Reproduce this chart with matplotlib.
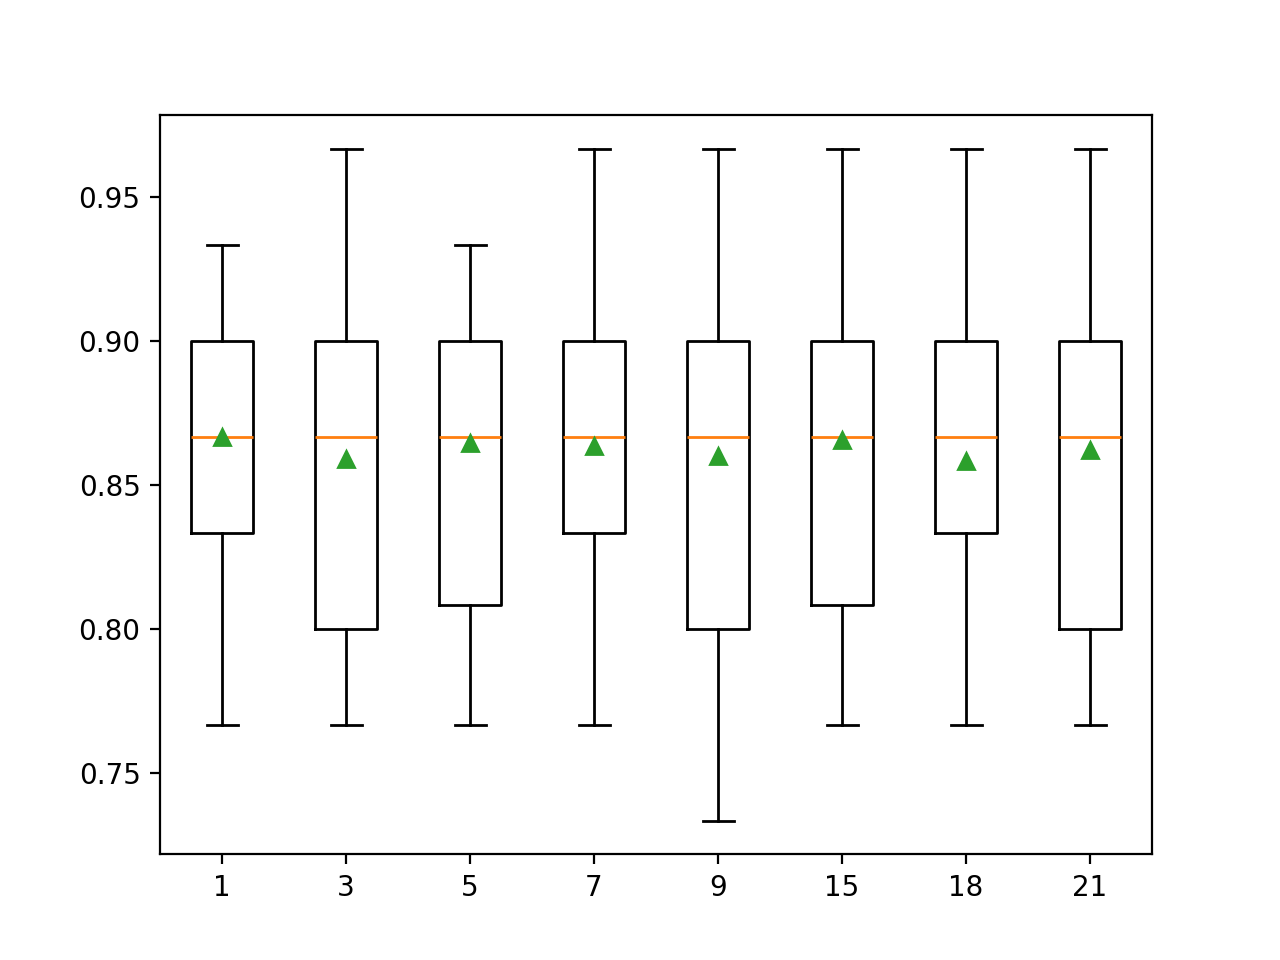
import matplotlib
matplotlib.use('Agg')
import matplotlib.pyplot as plt

# k values and box statistics
labels = ['1', '3', '5', '7', '9', '15', '18', '21']
whislo = [0.7667, 0.7667, 0.7667, 0.7667, 0.7333, 0.7667, 0.7667, 0.7667]
q1 = [0.8333, 0.8000, 0.8083, 0.8333, 0.8000, 0.8083, 0.8333, 0.8000]
med = [0.8667, 0.8667, 0.8667, 0.8667, 0.8667, 0.8667, 0.8667, 0.8667]
q3 = [0.9000, 0.9000, 0.9000, 0.9000, 0.9000, 0.9000, 0.9000, 0.9000]
whishi = [0.9333, 0.9667, 0.9333, 0.9667, 0.9667, 0.9667, 0.9667, 0.9667]
means = [0.8667, 0.8590, 0.8646, 0.8635, 0.8601, 0.8656, 0.8583, 0.8622]

stats = []
for i in range(len(labels)):
    stats.append({'label': labels[i], 'whislo': whislo[i], 'q1': q1[i],
                  'med': med[i], 'q3': q3[i], 'whishi': whishi[i],
                  'mean': means[i], 'fliers': []})

fig, ax = plt.subplots(figsize=(6.4, 4.8), dpi=200)
ax.bxp(stats, showmeans=True)
fig.savefig('out.png', dpi=200)
